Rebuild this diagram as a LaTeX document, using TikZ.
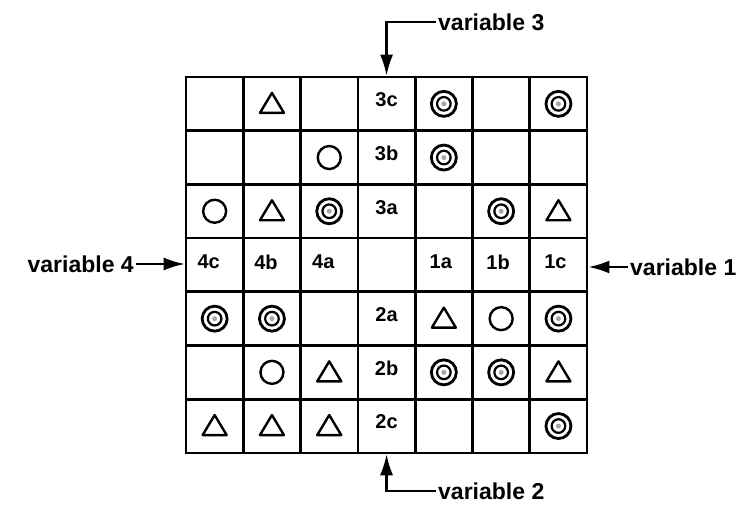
\documentclass[tikz,border=0pt]{standalone}
\usepackage{fontspec}
\setmainfont{Liberation Sans}
\usetikzlibrary{arrows.meta}
\begin{document}
\begin{tikzpicture}[x=1pt,y=-1pt,
  cellbox/.style={draw, line width=2.7pt, minimum width=57.3pt, minimum height=53.7pt, inner sep=0pt},
  lab/.style={font=\fontsize{20}{21}\selectfont\bfseries, inner sep=0pt},
  varlab/.style={font=\fontsize{23}{25}\selectfont\bfseries, inner sep=2pt},
  arr/.style={line width=2.2pt, -{Latex[length=21pt,width=13pt]}},
  tri/.pic={\draw[line width=2.4pt, line join=round] (-12,9)--(12,9)--(0,-11)--cycle;},
  circ/.pic={\draw[line width=2.4pt] (0,0) circle[radius=11.5];},
  bull/.pic={\draw[line width=2.8pt] (0,0) circle[radius=12.5];
             \draw[line width=2.2pt] (0,0) circle[radius=6.8];
             \fill[gray!70] (0,0) circle[radius=2.5];}]
\useasboundingbox (0,0) rectangle (750,505);

% the 7x7 board
\foreach \r in {1,...,7}
  \foreach \c in {1,...,7}
    \node[cellbox] (c-\r-\c) at ({186+(\c-0.5)*57.3},{77+(\r-0.5)*53.7}) {};

% symbols
\foreach \cell in {1-2,3-2,3-7,5-5,6-3,6-7,7-1,7-2,7-3}
  \path (c-\cell) pic{tri};
\foreach \cell in {2-3,3-1,5-6,6-2}
  \path (c-\cell) pic{circ};
\foreach \cell in {1-5,1-7,2-5,3-3,3-6,5-1,5-2,5-7,6-5,6-6,7-7}
  \path (c-\cell) pic{bull};

% level labels
\node[lab] (l3c) at ([yshift=4pt]c-1-4.center) {3c};
\node[lab] (l3b) at ([yshift=4pt]c-2-4.center) {3b};
\node[lab] (l3a) at ([yshift=4pt]c-3-4.center) {3a};
\node[lab] (l2a) at ([yshift=4pt]c-5-4.center) {2a};
\node[lab] (l2b) at ([yshift=4pt]c-6-4.center) {2b};
\node[lab] (l2c) at ([yshift=4pt]c-7-4.center) {2c};
\node[lab] (l4c) at ([xshift=-6pt,yshift=3pt]c-4-1.center) {4c};
\node[lab] (l4b) at ([xshift=-6pt,yshift=3pt]c-4-2.center) {4b};
\node[lab] (l4a) at ([xshift=-6pt,yshift=3pt]c-4-3.center) {4a};
\node[lab] (l1a) at ([xshift=-3pt,yshift=3pt]c-4-5.center) {1a};
\node[lab] (l1b) at ([xshift=-3pt,yshift=3pt]c-4-6.center) {1b};
\node[lab] (l1c) at ([xshift=-3pt,yshift=3pt]c-4-7.center) {1c};

% variable labels and their pointers
\node[varlab, anchor=west] (v3) at (436,22) {variable 3};
\node[varlab, anchor=west] (v2) at (436,491) {variable 2};
\node[varlab, anchor=east] (v4) at (136,264) {variable 4};
\node[varlab, anchor=west] (v1) at (628,267) {variable 1};

\draw[arr] (v3.west) -| (c-1-4.north);
\draw[arr] (v2.west) -| (c-7-4.south);
\draw[arr] (v4.east) -- (v4.east -| c-4-1.west);
\draw[arr] (v1.west) -- (v1.west -| c-4-7.east);
\end{tikzpicture}
\end{document}
